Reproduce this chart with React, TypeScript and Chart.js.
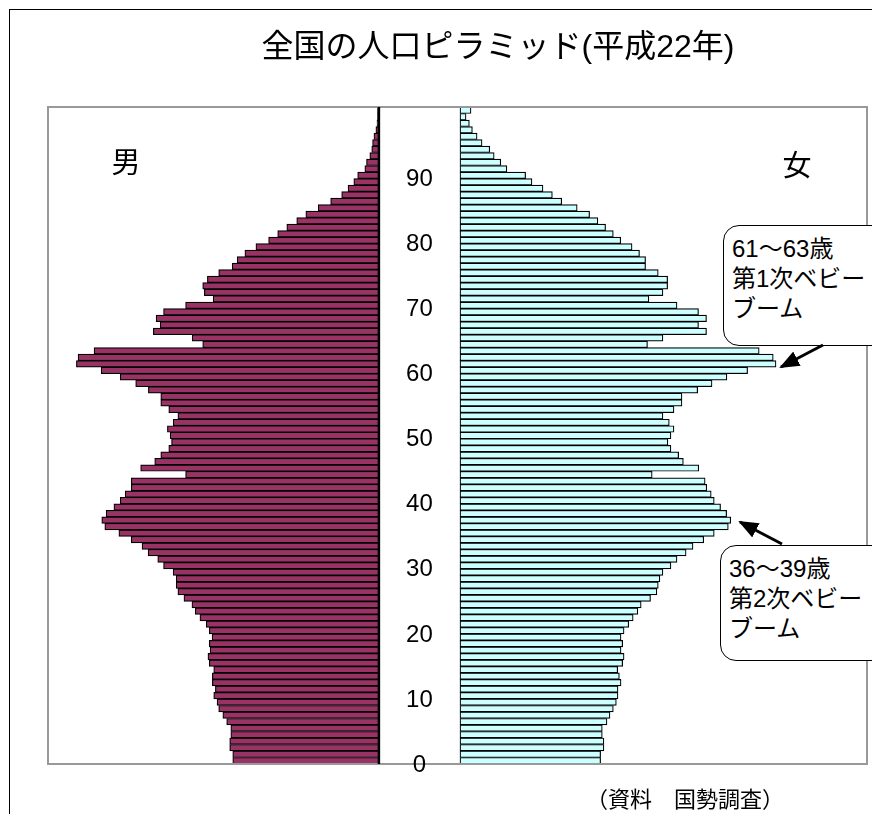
import React, { useEffect, useRef } from "react";
import { Chart, registerables } from "chart.js";

Chart.register(...registerables);

// ---- data (thousands of persons), index = age 0..100 (100 = 100歳以上) ----
const AGES: string[] = Array.from({ length: 101 }, (_, i) => String(i));
const AGE_TICKS: number[] = [0, 10, 20, 30, 40, 50, 60, 70, 80, 90];

const MALE: number[] = [
  530, 530, 541, 541, 537, 537, 552, 566, 581, 587,
  599, 593, 604, 604, 599, 615, 620, 612, 615, 605,
  615, 626, 649, 666, 678, 707, 729, 735, 735, 746,
  781, 802, 837, 859, 898, 943, 994, 1005, 989, 961,
  938, 920, 898, 898, 701, 864, 813, 791, 762, 752,
  757, 767, 746, 729, 762, 791, 791, 836, 882, 938,
  1007, 1097, 1091, 1033, 639, 677, 818, 793, 808, 781,
  701, 601, 633, 639, 622, 581, 532, 514, 486, 446,
  400, 367, 334, 298, 265, 220, 175, 135, 112, 91,
  77, 51, 45, 33, 26, 23, 18, 11, 7, 5,
  5,
];

const FEMALE: number[] = [
  510, 510, 522, 522, 516, 516, 533, 544, 556, 567,
  573, 573, 584, 578, 572, 590, 595, 584, 590, 584,
  595, 612, 628, 645, 657, 691, 714, 719, 725, 736,
  765, 787, 820, 845, 884, 922, 973, 982, 967, 945,
  922, 911, 895, 889, 697, 866, 810, 793, 765, 754,
  765, 776, 759, 736, 776, 805, 805, 862, 914, 968,
  1043, 1146, 1136, 1085, 680, 736, 894, 865, 894, 865,
  787, 685, 736, 753, 753, 719, 673, 673, 651, 624,
  583, 556, 528, 500, 470, 425, 369, 335, 301, 261,
  238, 170, 148, 124, 108, 80, 62, 45, 34, 22,
  40,
];

const TITLE = "全国の人口ピラミッド(平成22年)";
const MALE_LABEL = "男";
const FEMALE_LABEL = "女";
const SOURCE = "（資料　国勢調査）";
const NOTE1: string[] = ["61～63歳", "第1次ベビー", "ブーム"];
const NOTE2: string[] = ["36～39歳", "第2次ベビー", "ブーム"];

// scale configuration (thousands)
const MALE_AXIS_MAX = 1200;
const FEMALE_AXIS_MAX = 1476;
const GAP = 294; // space between the two halves for age labels
const HALF = GAP / 2;

const JP = '"Liberation Sans", Arial, "Noto Sans CJK JP", sans-serif';

export default function App() {
  const ref = useRef<HTMLCanvasElement | null>(null);

  useEffect(() => {
    if (!ref.current) return;
    const decor = {
      id: "decor",
      beforeDraw(chart: any) {
        const { ctx } = chart;
        ctx.save();
        ctx.fillStyle = "#ffffff";
        ctx.fillRect(0, 0, chart.width, chart.height);
        ctx.restore();
      },
      afterDatasetsDraw(chart: any) {
        const { ctx, chartArea: a, scales } = chart;
        const xs = scales.x;
        const ys = scales.y;
        ctx.save();
        // plot frame
        ctx.strokeStyle = "#999999";
        ctx.lineWidth = 2;
        ctx.strokeRect(a.left, a.top, a.right - a.left, a.bottom - a.top);
        // male axis line
        const mx = xs.getPixelForValue(-HALF);
        ctx.strokeStyle = "#000000";
        ctx.lineWidth = 2.5;
        ctx.beginPath();
        ctx.moveTo(mx, a.top);
        ctx.lineTo(mx, a.bottom);
        ctx.stroke();
        // age labels
        const cat = (a.bottom - a.top) / AGES.length;
        const cx = xs.getPixelForValue(0);
        ctx.fillStyle = "#000000";
        ctx.font = '24px "Liberation Sans", Arial, sans-serif';
        ctx.textAlign = "center";
        ctx.textBaseline = "middle";
        AGE_TICKS.forEach((t) => {
          const y = ys.getPixelForValue(t) + cat / 2;
          ctx.fillText(String(t), cx, y + 1);
        });
        ctx.restore();
      },
    };

    const chart = new Chart(ref.current, {
      type: "bar",
      data: {
        labels: AGES,
        datasets: [
          {
            label: MALE_LABEL,
            data: MALE.map((v) => [-HALF - v, -HALF]) as any,
            backgroundColor: "#993366",
            borderColor: "#000000",
            borderWidth: 1.2,
            borderSkipped: false,
            grouped: false,
            barPercentage: 1,
            categoryPercentage: 1,
          } as any,
          {
            label: FEMALE_LABEL,
            data: FEMALE.map((v) => [HALF, HALF + v]) as any,
            backgroundColor: "#CCFFFF",
            borderColor: "#000000",
            borderWidth: 1.2,
            borderSkipped: false,
            grouped: false,
            barPercentage: 1,
            categoryPercentage: 1,
          } as any,
        ],
      },
      options: {
        indexAxis: "y",
        animation: false,
        responsive: false,
        devicePixelRatio: 1,
        layout: { padding: { left: 48, top: 107, right: 5, bottom: 50 } },
        scales: {
          x: {
            type: "linear",
            min: -(MALE_AXIS_MAX + HALF),
            max: HALF + FEMALE_AXIS_MAX,
            display: false,
          },
          y: {
            type: "category",
            reverse: true,
            display: false,
            offset: true,
          },
        },
        plugins: {
          legend: { display: false },
          tooltip: { enabled: false },
          title: { display: false },
        },
      },
      plugins: [decor],
    });
    return () => chart.destroy();
  }, []);

  const noteBox = (left: number, top: number, height: number, lines: string[]) => (
    <div
      style={{
        position: "absolute",
        left,
        top,
        width: 170,
        height,
        border: "1.5px solid #000",
        borderRadius: 16,
        background: "#fff",
        boxSizing: "border-box",
        padding: "8px 0 0 8px",
        fontFamily: JP,
        fontSize: 24,
        lineHeight: "30px",
        color: "#000",
        whiteSpace: "nowrap",
      }}
    >
      {lines.map((l, i) => (
        <div key={i}>{l}</div>
      ))}
    </div>
  );

  return (
    <div
      style={{
        position: "fixed",
        left: 0,
        top: 0,
        width: 872,
        height: 814,
        overflow: "hidden",
        background: "#fff",
      }}
    >
      <canvas ref={ref} width={872} height={814} style={{ position: "absolute", left: 0, top: 0 }} />
      <div
        style={{
          position: "absolute",
          left: 9,
          top: 9,
          width: 1000,
          height: 1000,
          borderLeft: "1px solid #000",
          borderTop: "1px solid #000",
        }}
      />
      <div
        style={{
          position: "absolute",
          left: 98,
          width: 800,
          top: 25,
          lineHeight: "42px",
          textAlign: "center",
          fontFamily: JP,
          fontSize: 32,
          color: "#000",
          whiteSpace: "nowrap",
        }}
      >
        {TITLE}
      </div>
      <div style={{ position: "absolute", left: 76, width: 100, top: 143, lineHeight: "40px", textAlign: "center", fontFamily: JP, fontSize: 29 }}>
        {MALE_LABEL}
      </div>
      <div style={{ position: "absolute", left: 747, width: 100, top: 146, lineHeight: "40px", textAlign: "center", fontFamily: JP, fontSize: 29 }}>
        {FEMALE_LABEL}
      </div>
      <div style={{ position: "absolute", left: 535, width: 300, top: 784, lineHeight: "32px", textAlign: "center", fontFamily: JP, fontSize: 22, whiteSpace: "nowrap" }}>
        {SOURCE}
      </div>
      {noteBox(723, 225, 121, NOTE1)}
      {noteBox(720, 545, 116, NOTE2)}
      <svg width={872} height={814} style={{ position: "absolute", left: 0, top: 0, pointerEvents: "none" }}>
        <defs>
          <marker id="ah" markerWidth="20" markerHeight="16" refX="18" refY="8" orient="auto" markerUnits="userSpaceOnUse">
            <path d="M0,0 L20,8 L0,16 Z" fill="#000" />
          </marker>
        </defs>
        <line x1={823} y1={345} x2={781} y2={367} stroke="#000" strokeWidth={3} markerEnd="url(#ah)" />
        <line x1={782} y1={544} x2={740} y2={522} stroke="#000" strokeWidth={3} markerEnd="url(#ah)" />
      </svg>
    </div>
  );
}
